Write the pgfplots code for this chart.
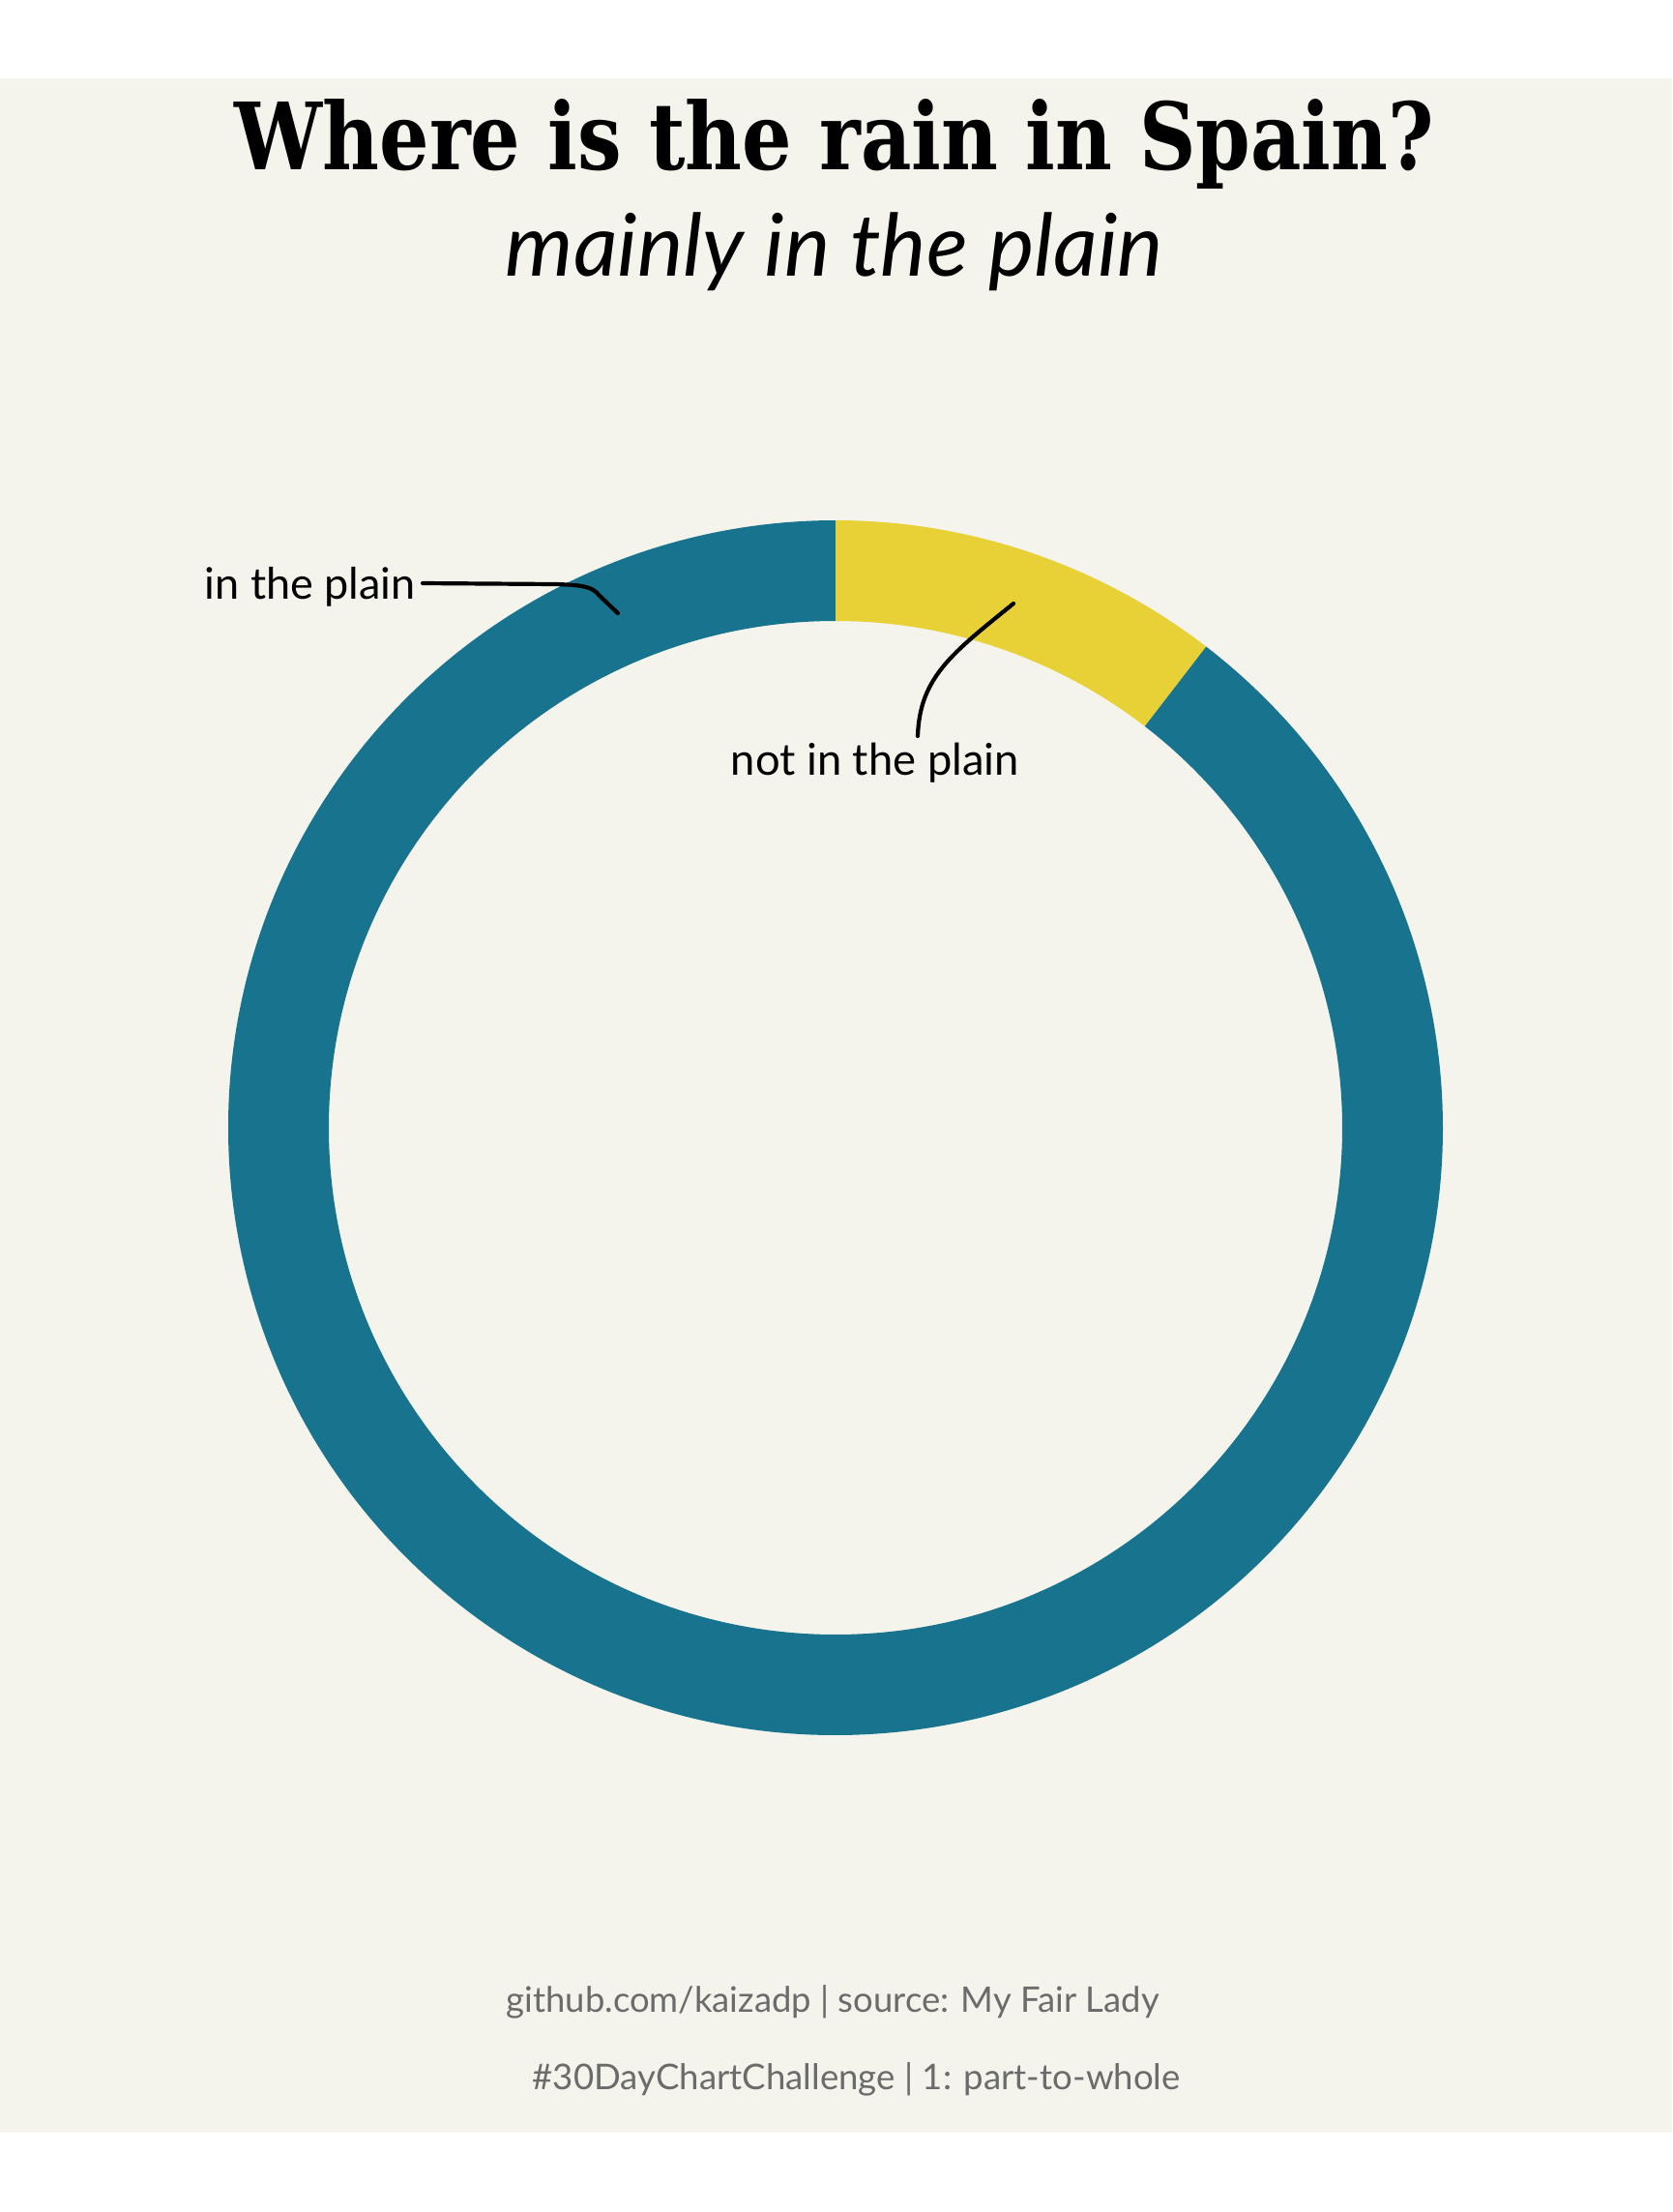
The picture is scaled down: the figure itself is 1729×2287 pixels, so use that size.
\documentclass[border=0pt]{standalone}
\usepackage{pgfplots}
\usepackage{pgfplotstable}
\pgfplotsset{compat=1.18}
\usepackage{fontspec}
\setmainfont{Lato}
\newfontfamily\titlefont{DejaVu Serif}
\usepackage{graphicx}
\definecolor{bgbeige}{RGB}{245,244,236}
\definecolor{rteal}{RGB}{23,115,142}
\definecolor{ryellow}{RGB}{231,209,55}
\definecolor{capgray}{RGB}{107,107,107}

\pgfplotstableread{
label value
notplain 10.45
plain 89.55
}\raintable

\begin{document}
\begin{tikzpicture}[x=0.1mm, y=-0.1mm]
\pgfplotstablegetelem{0}{value}\of\raintable \pgfmathsetmacro\vNot{\pgfplotsretval}
\pgfplotstablegetelem{1}{value}\of\raintable \pgfmathsetmacro\vIn{\pgfplotsretval}
\pgfmathsetmacro\tot{\vNot+\vIn}
\pgfmathsetmacro\fNot{\vNot/\tot}
\pgfmathsetmacro\fIn{\vIn/\tot}
\pgfmathsetmacro\aA{90}
\pgfmathsetmacro\aB{90-360*\fNot}
\pgfmathsetmacro\aC{\aB-360*\fIn}

\fill[white] (0,0) rectangle (1729,2287);
\fill[bgbeige] (0,81) rectangle (1729,2205);

\begin{axis}[x=0.1mm, y=0.1mm, xmin=-640, xmax=640, ymin=-640, ymax=640,
  hide axis, anchor=center, at={(86.4mm,-116.6mm)}, clip=false]
\addplot[draw=none] coordinates {(0,0)};
\fill[ryellow] (axis cs:{628*cos(\aA)},{628*sin(\aA)}) arc[start angle=\aA, end angle=\aB, radius=62.8mm]
  -- (axis cs:{524*cos(\aB)},{524*sin(\aB)}) arc[start angle=\aB, end angle=\aA, radius=52.4mm] -- cycle;
\fill[rteal] (axis cs:{628*cos(\aB)},{628*sin(\aB)}) arc[start angle=\aB, end angle=\aC, radius=62.8mm]
  -- (axis cs:{524*cos(\aC)},{524*sin(\aC)}) arc[start angle=\aC, end angle=\aB, radius=52.4mm] -- cycle;
\end{axis}

% leader lines
\draw[line width=0.42mm, line cap=round] (437,603) -- (575,604) .. controls (605,605) and (613,607) .. (620,616) -- (639,634);
\draw[line width=0.42mm, line cap=round] (949,761) .. controls (951,700) and (985,675) .. (1048,624);

% texts
\node[anchor=base, inner sep=0pt] at (863,175) {\resizebox{124mm}{7.3mm}{\titlefont\bfseries Where is the rain in Spain?}};
\node[anchor=base west, inner sep=0pt] at (522,285) {\resizebox{68mm}{!}{\itshape mainly in the plain}};
\node[anchor=base west, inner sep=0pt] at (211,619) {\resizebox{21.8mm}{!}{in the plain}};
\node[anchor=base west, inner sep=0pt] at (755,801) {\resizebox{29.8mm}{!}{not in the plain}};
\node[anchor=base west, inner sep=0pt, text=capgray] at (523,2080) {\resizebox{67.5mm}{!}{github.com/kaizadp | source: My Fair Lady}};
\node[anchor=base west, inner sep=0pt, text=capgray] at (550,2160) {\resizebox{67mm}{!}{\#30DayChartChallenge | 1: part-to-whole}};
\end{tikzpicture}
\end{document}
